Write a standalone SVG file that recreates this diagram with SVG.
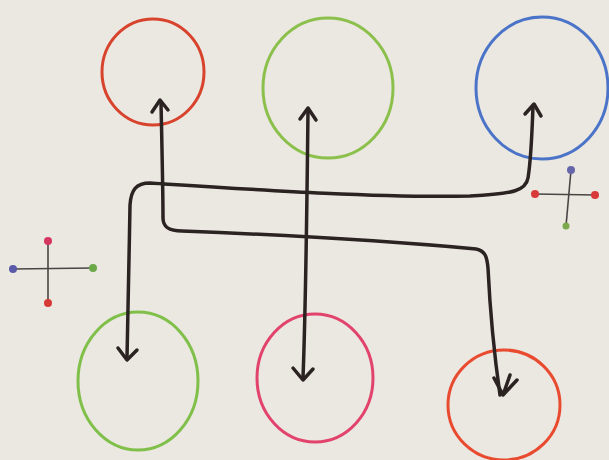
<svg xmlns="http://www.w3.org/2000/svg" width="609" height="460" viewBox="0 0 609 460">
<style>
.c{fill:none;stroke-width:3;stroke-linecap:round}
.e{fill:none;stroke:#2b2222;stroke-width:3.5;stroke-linecap:round;stroke-linejoin:round}
.h{fill:none;stroke:#2b2222;stroke-width:3.5;stroke-linecap:round;stroke-linejoin:round}
.x{stroke:#4a4444;stroke-width:1.6;fill:none}
</style>
<rect width="609" height="460" fill="#ebe8e1"/>
<g id="node-red-top"><ellipse class="c" cx="153" cy="72" rx="51" ry="53" stroke="#d8432d"/></g>
<g id="node-green-top"><ellipse class="c" cx="328" cy="88" rx="65" ry="70" stroke="#8cc04c"/></g>
<g id="node-blue-top"><ellipse class="c" cx="542" cy="88" rx="66" ry="71" stroke="#4b74c9"/></g>
<g id="node-green-bottom"><ellipse class="c" cx="138" cy="381" rx="60" ry="69" stroke="#80c04a"/></g>
<g id="node-pink-bottom"><ellipse class="c" cx="315" cy="378" rx="58" ry="64" stroke="#e2436c"/></g>
<g id="node-red-bottom"><ellipse class="c" cx="504" cy="405" rx="56" ry="55" stroke="#e94b31"/></g>
<g id="cross-left">
<line class="x" x1="48" y1="241" x2="48" y2="303"/>
<line class="x" x1="13" y1="269" x2="93" y2="268"/>
<circle cx="48" cy="241" r="4" fill="#d63560"/>
<circle cx="48" cy="303" r="4" fill="#d63a36"/>
<circle cx="13" cy="269" r="4" fill="#5a5aa8"/>
<circle cx="93" cy="268" r="4" fill="#6aa848"/>
</g>
<g id="cross-right">
<line class="x" x1="571" y1="170" x2="566" y2="226"/>
<line class="x" x1="535" y1="194" x2="595" y2="195"/>
<circle cx="571" cy="170" r="4" fill="#6666aa"/>
<circle cx="566" cy="226" r="3.5" fill="#7aa84a"/>
<circle cx="535" cy="194" r="4" fill="#d83a3a"/>
<circle cx="595" cy="195" r="4" fill="#d83a3a"/>
</g>
<g id="connectors">
<path class="e" d="M161 102 C162 150 163 190 163 218 C163 228 170 231 182 231 C260 234 380 240 476 249 C486 251 487 258 488 268 C490 310 495 360 500 395"/>
<path class="h" d="M152 112 L160 100 L168 110"/>
<path class="h" d="M494 378 L503 395 L510 375 M503 395 L517 380"/>
<path class="e" d="M533 106 C532 135 531 160 528 178 C526 190 515 194 470 196 C380 198 260 190 150 183 C136 183 131 190 130 205 C129 260 128 320 127 358"/>
<path class="h" d="M525 114 L534 104 L541 116"/>
<path class="h" d="M118 348 L127 360 L137 350"/>
<path class="e" d="M308 110 C307 200 306 300 303 378"/>
<path class="h" d="M300 119 L308 108 L316 120"/>
<path class="h" d="M293 368 L303 380 L313 369"/>
</g>
</svg>
